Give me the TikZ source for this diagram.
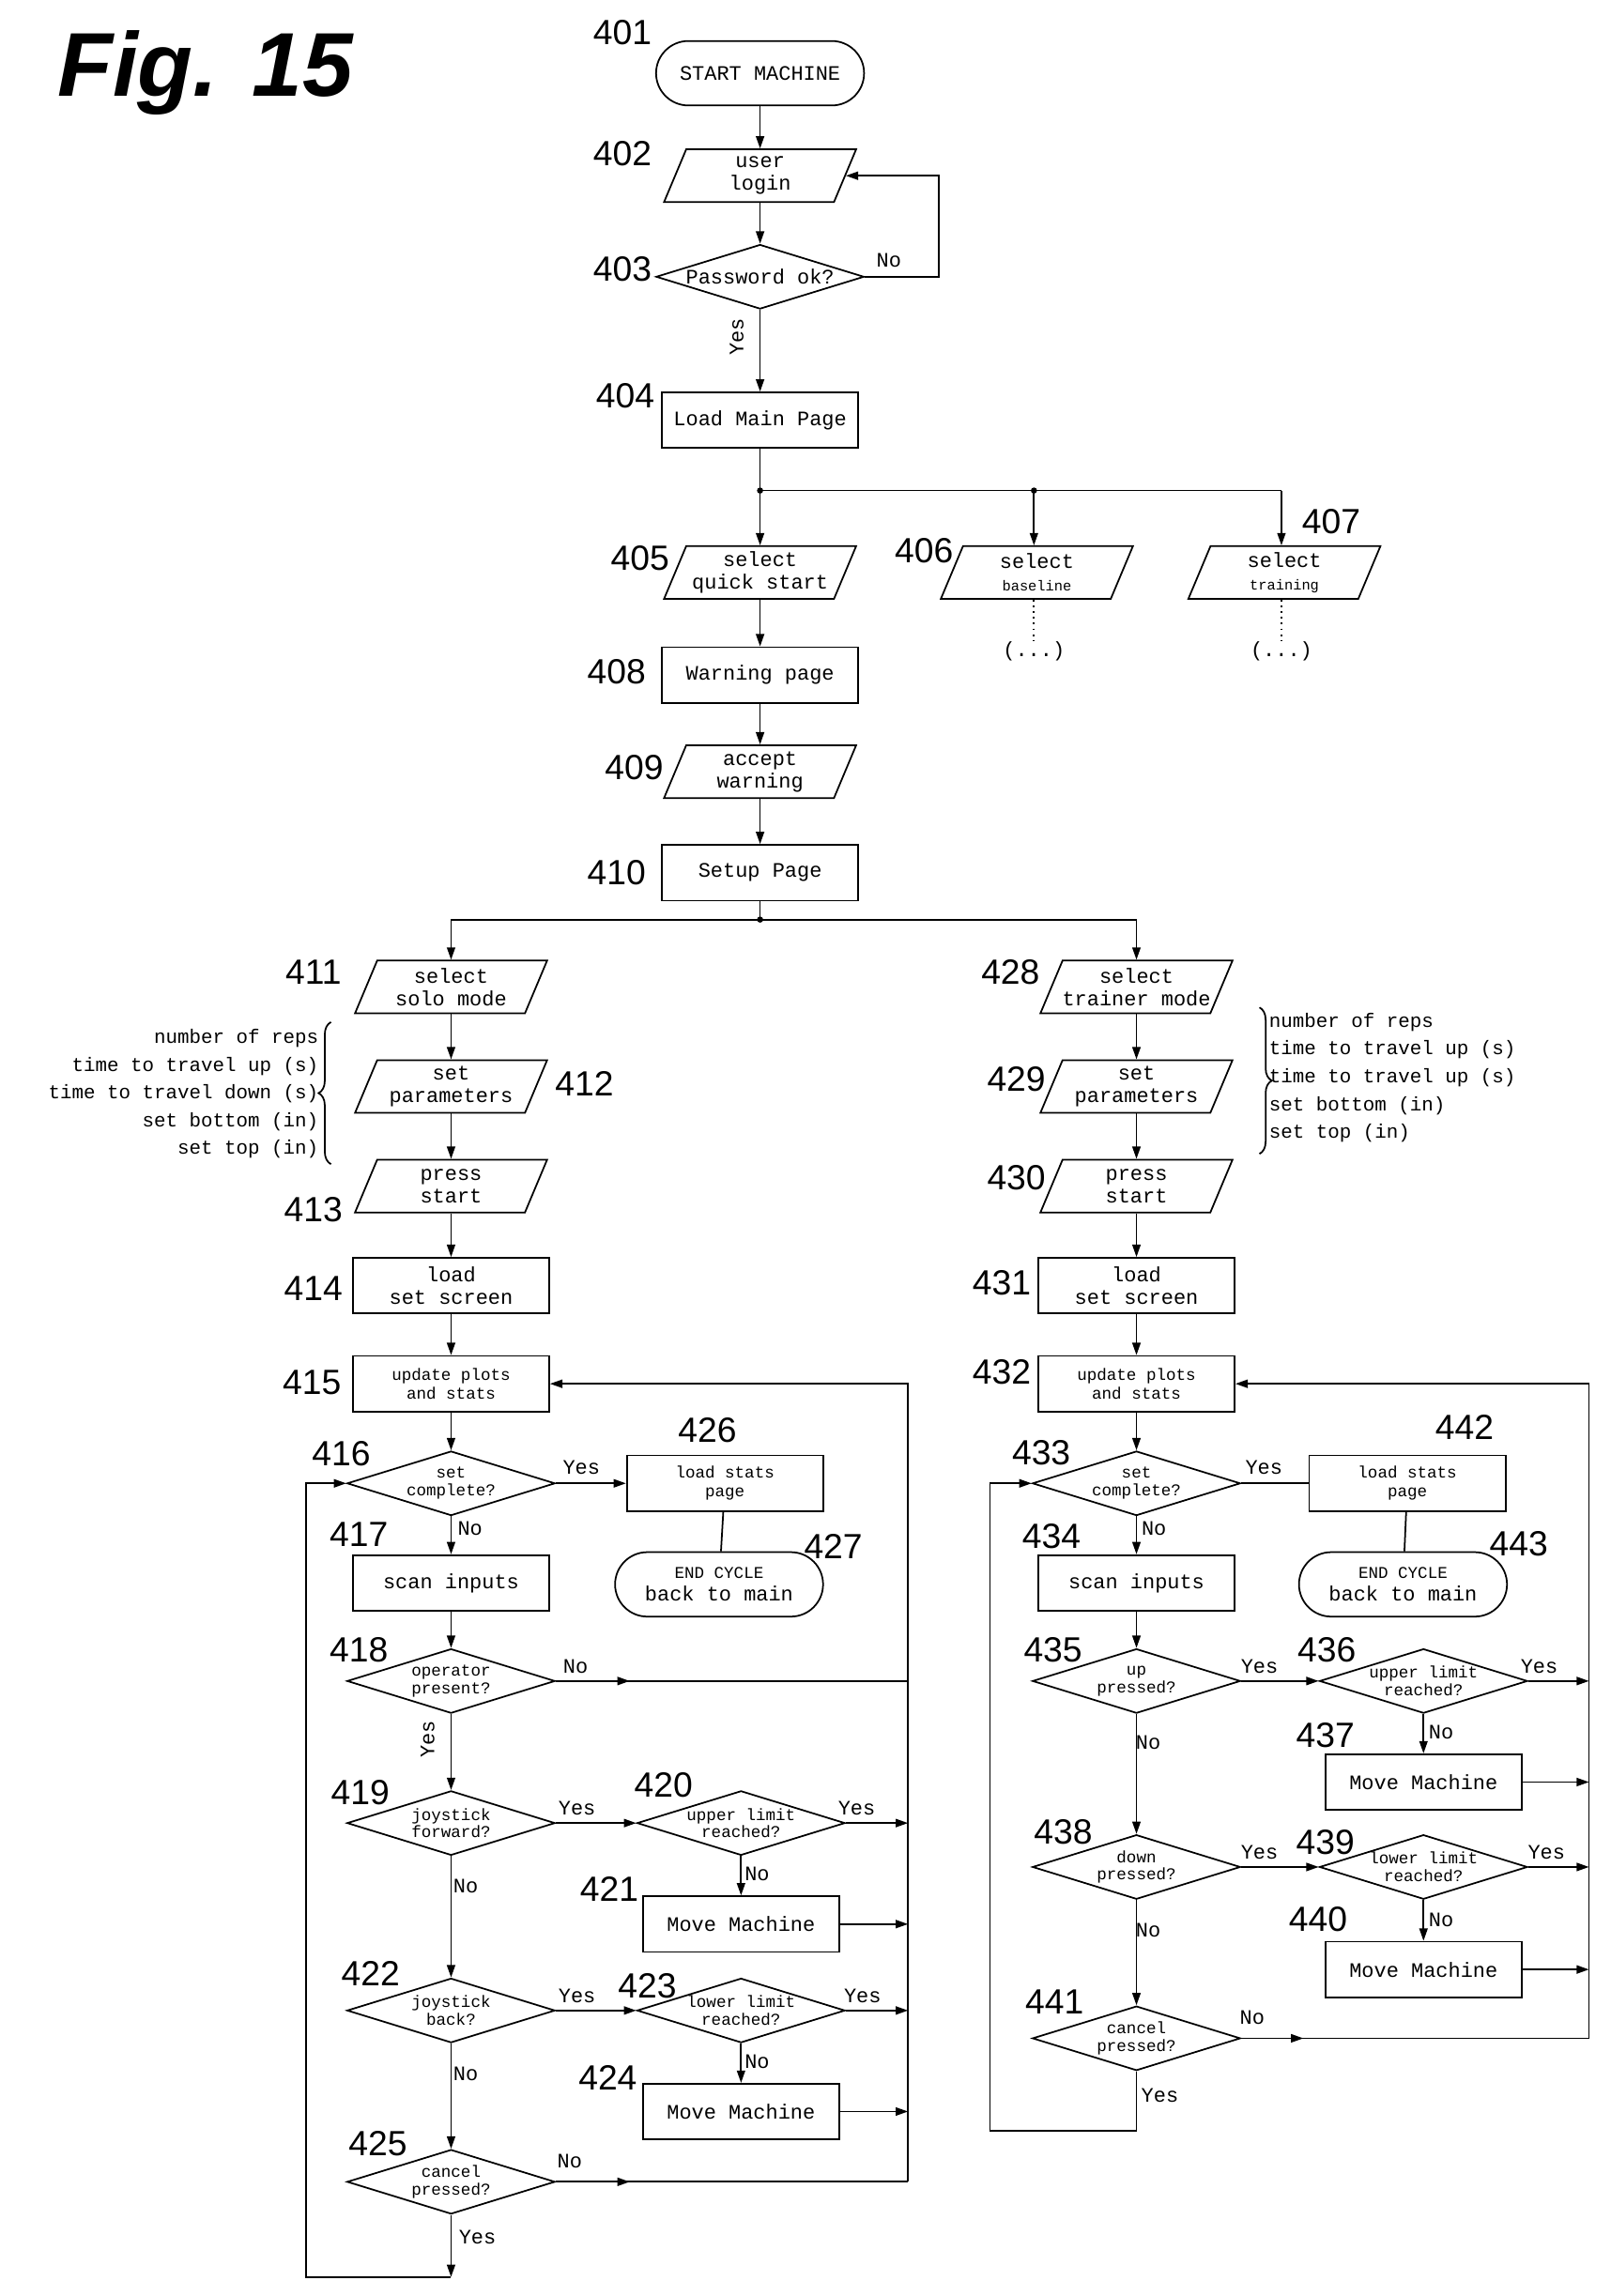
\documentclass[tikz,border=0pt]{standalone}
\usepackage{fontspec}
\setmainfont{Liberation Sans}
\setmonofont{Liberation Mono}
\usetikzlibrary{shapes.geometric,arrows.meta,decorations.pathreplacing}
\begin{document}
\begin{tikzpicture}[x=0.025cm,y=-0.025cm,
  every path/.style={line width=0.8pt},
  box/.style={draw,rectangle,minimum width=3.35cm,minimum height=0.95cm,inner sep=0pt,font=\ttfamily\fontsize{10}{11}\selectfont,align=center},
  term/.style={draw,rounded corners=0.55cm,minimum width=3.55cm,minimum height=1.1cm,inner sep=0pt,font=\ttfamily\fontsize{10}{11}\selectfont,align=center},
  par/.style={draw,rectangle,xslant=0.42,transform shape,minimum width=2.9cm,minimum height=0.9cm,inner sep=0pt},
  ptxt/.style={font=\ttfamily\fontsize{10}{11}\selectfont,align=center,inner sep=0pt},
  dia/.style={draw,diamond,minimum width=3.55cm,minimum height=1.1cm,inner sep=0pt},
  dtxt/.style={font=\ttfamily\fontsize{8}{8.5}\selectfont,align=center,inner sep=0pt},
  lab/.style={font=\fontsize{17}{18}\selectfont},
  yn/.style={font=\ttfamily\fontsize{10}{11}\selectfont},
  arr/.style={-{Triangle[length=6pt,width=4pt]}},
  dot/.style={circle,fill,inner sep=0pt,minimum size=3pt}]
\useasboundingbox (0,0) rectangle (1100,1568);
\node[font=\bfseries\itshape\fontsize{44}{48}\selectfont] (fig) at (140,50) {Fig. 15};
% top column
\node[term] (n401) at (519,50) {START MACHINE};
\node[par] (p402) at (519,120) {}; \node[ptxt] (t402) at (p402) {user\\login};
\node[dia] (d403) at (519,189) {}; \node[dtxt,font=\ttfamily\fontsize{10}{11}\selectfont] (t403) at (d403) {Password ok?};
\node[box] (n404) at (519,287) {Load Main Page};
\node[par] (p405) at (519,391) {}; \node[ptxt] (t405) at (p405) {select\\quick start};
\node[par] (p406) at (708,391) {}; \node[ptxt] (t406) at (p406) {select\\{\fontsize{7}{8}\selectfont baseline}};
\node[par] (p407) at (877,391) {}; \node[ptxt] (t407) at (p407) {select\\{\fontsize{7}{8}\selectfont training}};
\node[ptxt] (e406) at (706,445) {(...)};
\node[ptxt] (e407) at (875,445) {(...)};
\node[box] (n408) at (519,461) {Warning page};
\node[par] (p409) at (519,527) {}; \node[ptxt] (t409) at (p409) {accept\\warning};
\node[box] (n410) at (519,596) {Setup Page};
\coordinate (j1) at (519,335); \coordinate (j2) at (706,335); \coordinate (j3) at (875,335);
\coordinate (j4) at (519,628); \coordinate (jl) at (308,628); \coordinate (jr) at (776,628);
\node[lab] at (425,22) {401}; \node[lab] at (425,105) {402}; \node[lab] at (425,184) {403};
\node[lab] at (427,270) {404}; \node[lab] at (437,381) {405}; \node[lab] at (631,376) {406};
\node[lab] at (909,356) {407}; \node[lab] at (421,459) {408}; \node[lab] at (433,524) {409};
\node[lab] at (421,596) {410};
\draw[arr] (n401) -- (p402.north -| p402.center);
\draw[arr] (p402.south -| p402.center) -- (d403);
\draw[arr] (d403.east) -- (641,189) |- (p402.east);
\node[yn] at (607,178) {No};
\draw[arr] (d403.south) -- (n404.north);
\node[yn,rotate=90] at (503,230) {Yes};
\draw (n404) -- (j1); \draw (j1) -- (j3);
\node[dot] at (j1) {}; \node[dot] at (j2) {};
\draw[arr] (j1) -- (p405.north -| j1); \draw[arr] (j2) -- (p406.north -| j2); \draw[arr] (j3) -- (p407.north -| j3);
\draw[dotted] (p406.south -| e406) -- (e406); \draw[dotted] (p407.south -| e407) -- (e407);
\draw[arr] (p405.south -| p405.center) -- (n408); \draw[arr] (n408) -- (p409.north -| p409.center); \draw[arr] (p409.south -| p409.center) -- (n410);
\draw (n410) -- (j4); \draw (jl) -- (jr); \node[dot] at (j4) {};
% left branch
\node[par] (p411) at (308,674) {}; \node[ptxt] (t411) at (p411) {select\\solo mode};
\node[par] (p412) at (308,742) {}; \node[ptxt] (t412) at (p412) {set\\parameters};
\node[par] (p413) at (308,810) {}; \node[ptxt] (t413) at (p413) {press\\start};
\node[box] (n414) at (308,878) {load\\set screen};
\node[box,font=\ttfamily\fontsize{8}{9}\selectfont] (n415) at (308,945) {update plots\\and stats};
\node[dia] (d416) at (308,1013) {}; \node[dtxt] at (d416) {set\\complete?};
\node[box,font=\ttfamily\fontsize{8}{9}\selectfont] (n426) at (495,1013) {load stats\\page};
\node[term] (n427) at (491,1082) {{\fontsize{8}{9}\selectfont END CYCLE}\\back to main};
\node[box] (n417) at (308,1081) {scan inputs};
\node[dia] (d418) at (308,1148) {}; \node[dtxt] at (d418) {operator\\present?};
\node[dia] (d419) at (308,1245) {}; \node[dtxt] at (d419) {joystick\\forward?};
\node[dia] (d420) at (506,1245) {}; \node[dtxt] at (d420) {upper limit\\reached?};
\node[box] (n421) at (506,1314) {Move Machine};
\node[dia] (d422) at (308,1373) {}; \node[dtxt] at (d422) {joystick\\back?};
\node[dia] (d423) at (506,1373) {}; \node[dtxt] at (d423) {lower limit\\reached?};
\node[box] (n424) at (506,1442) {Move Machine};
\node[dia] (d425) at (308,1490) {}; \node[dtxt] at (d425) {cancel\\pressed?};
\node[ptxt,align=right,anchor=east,font=\ttfamily\fontsize{9.5}{13.5}\selectfont] (lp) at (218,747) {number of reps\\time to travel up (s)\\time to travel down (s)\\set bottom (in)\\set top (in)};
\draw[decorate,decoration={brace,amplitude=6pt,mirror}] (226,698) -- (226,795);
\node[lab] at (214,664) {411}; \node[lab] at (399,740) {412}; \node[lab] at (214,826) {413};
\node[lab] at (214,880) {414}; \node[lab] at (213,944) {415}; \node[lab] at (233,993) {416};
\node[lab] at (483,977) {426}; \node[lab] at (569,1056) {427}; \node[lab] at (245,1048) {417};
\node[lab] at (245,1127) {418}; \node[lab] at (246,1224) {419}; \node[lab] at (453,1219) {420};
\node[lab] at (416,1290) {421}; \node[lab] at (253,1348) {422}; \node[lab] at (442,1356) {423};
\node[lab] at (415,1419) {424}; \node[lab] at (258,1464) {425};
\coordinate (b418) at (620,1148); \coordinate (b420) at (620,1245); \coordinate (b421) at (620,1314);
\coordinate (b423) at (620,1373); \coordinate (b424) at (620,1442); \coordinate (b425) at (620,1490);
\coordinate (m418) at (430,1148); \coordinate (m425) at (430,1490);
\coordinate (lb) at (308,1555); \coordinate (lc) at (209,1555);
\draw[arr] (jl) -- (p411.north -| jl);
\draw[arr] (p411.south -| jl) -- (p412.north -| jl); \draw[arr] (p412.south -| jl) -- (p413.north -| jl); \draw[arr] (p413.south -| jl) -- (n414);
\draw[arr] (n414) -- (n415); \draw[arr] (n415) -- (d416);
\draw[arr] (d416.east) -- (n426.west); \node[yn] at (397,1002) {Yes};
\draw (n426) -- (n427);
\draw[arr] (d416) -- (n417); \node[yn] at (321,1044) {No};
\draw[arr] (n417) -- (d418);
\draw (d418.east) -- (b418); \draw[arr] (d418.east) -- (m418); \node[yn] at (393,1138) {No};
\draw[arr] (d418) -- (d419); \node[yn,rotate=90] at (292,1188) {Yes};
\draw[arr] (d419.east) -- (d420.west); \node[yn] at (394,1235) {Yes};
\draw[arr] (d420.east) -- (b420); \node[yn] at (585,1235) {Yes};
\draw[arr] (d420) -- (n421); \node[yn] at (517,1280) {No};
\draw[arr] (n421.east) -- (b421);
\draw[arr] (d419) -- (d422); \node[yn] at (318,1288) {No};
\draw[arr] (d422.east) -- (d423.west); \node[yn] at (394,1363) {Yes};
\draw[arr] (d423.east) -- (b423); \node[yn] at (589,1363) {Yes};
\draw[arr] (d423) -- (n424); \node[yn] at (517,1408) {No};
\draw[arr] (n424.east) -- (b424);
\draw[arr] (d422) -- (d425); \node[yn] at (318,1416) {No};
\draw (d425.east) -- (b425); \draw[arr] (d425.east) -- (m425); \node[yn] at (389,1476) {No};
\draw[arr] (b425) |- (n415.east);
\draw[arr] (d425.south) -- (lb); \node[yn] at (326,1528) {Yes};
\draw[arr] (lb) -- (lc) |- (d416.west);
% right branch
\node[par] (p428) at (776,674) {}; \node[ptxt] (t428) at (p428) {select\\trainer mode};
\node[par] (p429) at (776,742) {}; \node[ptxt] (t429) at (p429) {set\\parameters};
\node[par] (p430) at (776,810) {}; \node[ptxt] (t430) at (p430) {press\\start};
\node[box] (n431) at (776,878) {load\\set screen};
\node[box,font=\ttfamily\fontsize{8}{9}\selectfont] (n432) at (776,945) {update plots\\and stats};
\node[dia] (d433) at (776,1013) {}; \node[dtxt] at (d433) {set\\complete?};
\node[box,font=\ttfamily\fontsize{8}{9}\selectfont] (n442) at (961,1013) {load stats\\page};
\node[term] (n443) at (958,1082) {{\fontsize{8}{9}\selectfont END CYCLE}\\back to main};
\node[box] (n434) at (776,1081) {scan inputs};
\node[dia] (d435) at (776,1148) {}; \node[dtxt] at (d435) {up\\pressed?};
\node[dia] (d436) at (972,1148) {}; \node[dtxt] at (d436) {upper limit\\reached?};
\node[box] (n437) at (972,1217) {Move Machine};
\node[dia] (d438) at (776,1275) {}; \node[dtxt] at (d438) {down\\pressed?};
\node[dia] (d439) at (972,1275) {}; \node[dtxt] at (d439) {lower limit\\reached?};
\node[box] (n440) at (972,1345) {Move Machine};
\node[dia] (d441) at (776,1392) {}; \node[dtxt] at (d441) {cancel\\pressed?};
\node[ptxt,align=left,anchor=west,font=\ttfamily\fontsize{9.5}{13.5}\selectfont] (rp) at (866,736) {number of reps\\time to travel up (s)\\time to travel up (s)\\set bottom (in)\\set top (in)};
\draw[decorate,decoration={brace,amplitude=6pt}] (860,688) -- (860,788);
\node[lab] at (690,664) {428}; \node[lab] at (694,737) {429}; \node[lab] at (694,804) {430};
\node[lab] at (684,876) {431}; \node[lab] at (684,937) {432}; \node[lab] at (711,992) {433};
\node[lab] at (1000,975) {442}; \node[lab] at (1037,1054) {443}; \node[lab] at (718,1049) {434};
\node[lab] at (719,1127) {435}; \node[lab] at (906,1127) {436}; \node[lab] at (905,1185) {437};
\node[lab] at (726,1251) {438}; \node[lab] at (905,1258) {439}; \node[lab] at (900,1311) {440};
\node[lab] at (720,1367) {441};
\coordinate (c436) at (1085,1148); \coordinate (c437) at (1085,1217); \coordinate (c439) at (1085,1275);
\coordinate (c440) at (1085,1345); \coordinate (c441) at (1085,1392); \coordinate (m441) at (890,1392);
\coordinate (rb) at (776,1455); \coordinate (rc) at (676,1455);
\draw[arr] (jr) -- (p428.north -| jr);
\draw[arr] (p428.south -| jr) -- (p429.north -| jr); \draw[arr] (p429.south -| jr) -- (p430.north -| jr); \draw[arr] (p430.south -| jr) -- (n431);
\draw[arr] (n431) -- (n432); \draw[arr] (n432) -- (d433);
\draw (d433.east) -- (n442.west); \node[yn] at (863,1002) {Yes};
\draw (n442) -- (n443);
\draw[arr] (d433) -- (n434); \node[yn] at (788,1044) {No};
\draw[arr] (n434) -- (d435);
\draw[arr] (d435.east) -- (d436.west); \node[yn] at (860,1138) {Yes};
\draw[arr] (d436.east) -- (c436); \node[yn] at (1051,1138) {Yes};
\draw[arr] (d436) -- (n437); \node[yn] at (984,1183) {No};
\draw[arr] (n437.east) -- (c437);
\draw[arr] (d435) -- (d438); \node[yn] at (784,1190) {No};
\draw[arr] (d438.east) -- (d439.west); \node[yn] at (860,1265) {Yes};
\draw[arr] (d439.east) -- (c439); \node[yn] at (1056,1265) {Yes};
\draw[arr] (d439) -- (n440); \node[yn] at (984,1311) {No};
\draw[arr] (n440.east) -- (c440);
\draw[arr] (d438) -- (d441); \node[yn] at (784,1318) {No};
\draw (d441.east) -- (c441); \draw[arr] (d441.east) -- (m441); \node[yn] at (855,1378) {No};
\draw[arr] (c441) |- (n432.east);
\draw (d441.south) -- (rb); \node[yn] at (792,1431) {Yes};
\draw[arr] (rb) -- (rc) |- (d433.west);
\end{tikzpicture}
\end{document}
